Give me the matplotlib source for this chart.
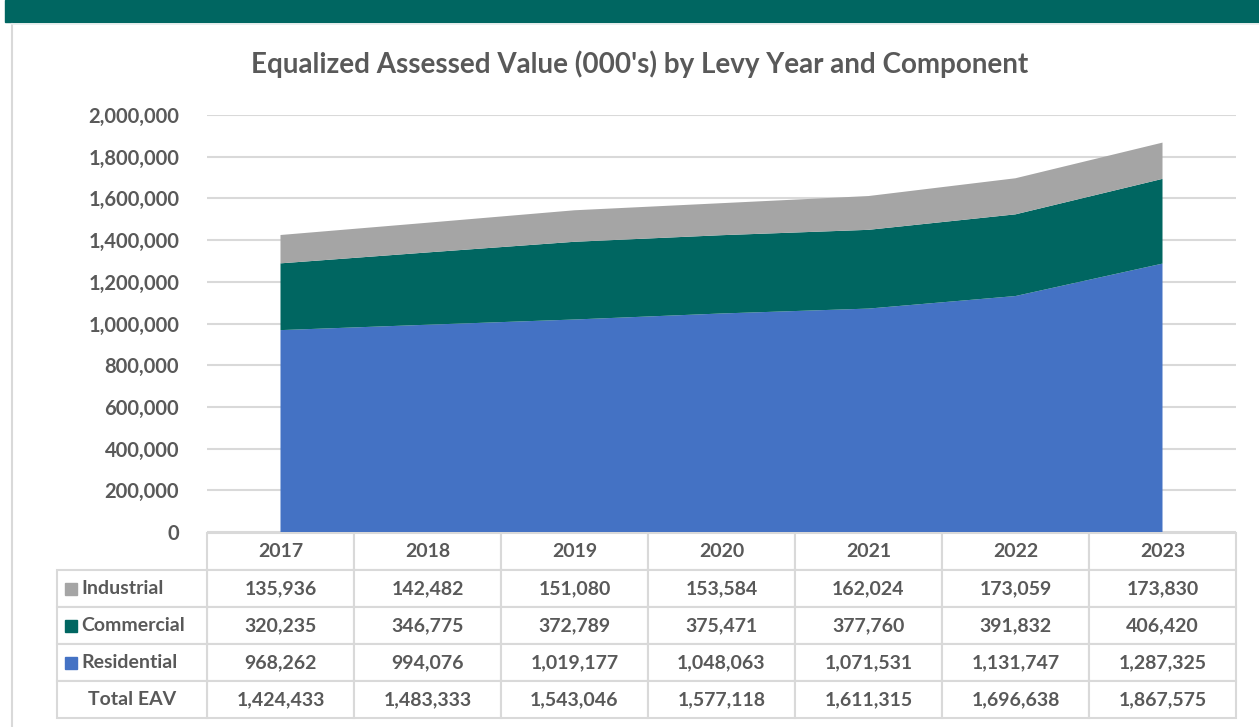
import matplotlib.pyplot as plt
from matplotlib.patches import Rectangle
from matplotlib.ticker import FuncFormatter

plt.rcParams['font.family'] = ['Lato', 'DejaVu Sans']

# Data (000's)
years = ["2017", "2018", "2019", "2020", "2021", "2022", "2023"]
industrial = [135936, 142482, 151080, 153584, 162024, 173059, 173830]
commercial = [320235, 346775, 372789, 375471, 377760, 391832, 406420]
residential = [968262, 994076, 1019177, 1048063, 1071531, 1131747, 1287325]
total_eav = [1424433, 1483333, 1543046, 1577118, 1611315, 1696638, 1867575]

series_names = ["Industrial", "Commercial", "Residential"]
colors = {"Industrial": "#a5a5a5", "Commercial": "#006661", "Residential": "#4472c4"}
grey_txt = "#595959"
edge = "#d9d9d9"

W, H = 1259, 727
fig = plt.figure(figsize=(W / 100, H / 100), dpi=100)

# header band and frame
fig.patches.append(Rectangle((5 / W, 1 - 22 / H), 1, 22 / H, transform=fig.transFigure,
                             color="#006661", zorder=0))
fig.add_artist(plt.Line2D([12 / W, 12 / W], [0, 1 - 24 / H], color=edge, lw=1.5))
fig.add_artist(plt.Line2D([12 / W, 1], [1 - 23.5 / H, 1 - 23.5 / H], color="#e6ecec", lw=1.2))

left, right, top, bottom = 207, 1236, 115, 532
ax = fig.add_axes([left / W, 1 - bottom / H, (right - left) / W, (bottom - top) / H])

x = [i + 0.5 for i in range(len(years))]
ax.stackplot(x, residential, commercial, industrial,
             colors=[colors["Residential"], colors["Commercial"], colors["Industrial"]],
             linewidth=0, zorder=2)

ax.set_xlim(0, len(years))
ax.set_ylim(0, 2000000)
ax.set_yticks(range(0, 2000001, 200000))
ax.yaxis.set_major_formatter(FuncFormatter(lambda v, p: f"{int(v):,}"))
ax.set_xticks([])
ax.tick_params(axis="y", length=0, pad=20, labelsize=14.5, labelcolor=grey_txt)
for t in ax.get_yticklabels():
    t.set_fontweight("bold")
ax.grid(axis="y", color=edge, lw=1.5, zorder=1)
for s in ax.spines.values():
    s.set_visible(False)

fig.text(640 / W, 1 - 64 / H, "Equalized Assessed Value (000's) by Levy Year and Component",
         ha="center", va="center", fontsize=20, fontweight="bold", color=grey_txt)

# data table
ah = bottom - top
row_px = 37
tab_top = -1 / ah
rows = [industrial, commercial, residential, total_eav]
cell_text = [[f"{v:,}" for v in r] for r in rows]
tb = ax.table(cellText=cell_text, colLabels=years, cellLoc="center",
              bbox=[0, tab_top - 5 * row_px / ah, 1, 5 * row_px / ah])
tb.auto_set_font_size(False)
tb.set_fontsize(14)
for c in tb.get_celld().values():
    c.set_edgecolor(edge)
    c.set_linewidth(1.5)
    c.get_text().set_color(grey_txt)
    c.get_text().set_fontweight("bold")

lab_w = 150 / (right - left)
row_labels = series_names + ["Total EAV"]
lt = ax.table(cellText=[[r] for r in row_labels], cellLoc="left",
              bbox=[-lab_w, tab_top - 5 * row_px / ah, lab_w, 4 * row_px / ah])
lt.auto_set_font_size(False)
lt.set_fontsize(14)
for (r, c), cell in lt.get_celld().items():
    cell.set_edgecolor(edge)
    cell.set_linewidth(1.5)
    cell.get_text().set_color(grey_txt)
    cell.get_text().set_fontweight("bold")
    if row_labels[r] == "Total EAV":
        cell._loc = "center"
        cell.get_text().set_ha("center")
    else:
        cell.PAD = 0.16
        sq_y = tab_top - (r + 1.5) * row_px / ah
        ax.add_patch(Rectangle(((65 - left) / (right - left), sq_y - 6 / ah), 12 / (right - left), 12 / ah,
                               transform=ax.transAxes, color=colors[row_labels[r]], clip_on=False))

fig.savefig("out.png", dpi=100)
